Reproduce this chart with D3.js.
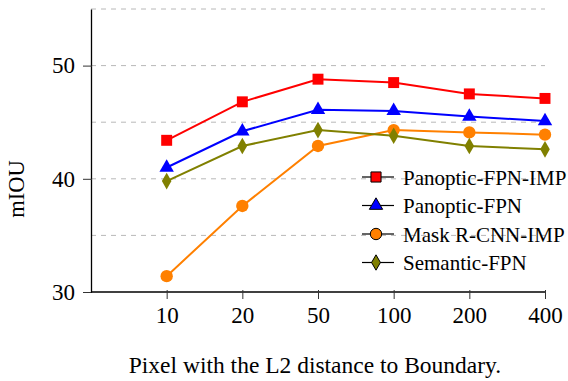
<!DOCTYPE html>
<html>
<head>
<meta charset="utf-8">
<script src="https://cdn.jsdelivr.net/npm/d3@7"></script>
<style>
  body { margin: 0; background: #fff; }
  svg { display: block; font-family: "Liberation Serif", "DejaVu Serif", serif; }
</style>
</head>
<body>
<svg width="568" height="381"></svg>
<script>
// Chart data
const distances = ["10", "20", "50", "100", "200", "400"];
const panopticImp = [43.4, 46.8, 48.8, 48.5, 47.5, 47.1];
const panoptic = [41.0, 44.2, 46.1, 46.0, 45.5, 45.1];
const maskImp = [31.4, 37.6, 42.9, 44.3, 44.1, 43.9];
const semantic = [39.8, 42.9, 44.3, 43.8, 42.9, 42.6];
const yTicks = [30, 40, 50];
const gridValues = [35, 40, 45, 50, 55];

const series = [
  { name: "Panoptic-FPN-IMP", values: panopticImp, color: "#ff0000", mark: d3.symbolSquare },
  { name: "Panoptic-FPN", values: panoptic, color: "#0000ff", mark: d3.symbolTriangle },
  { name: "Mask R-CNN-IMP", values: maskImp, color: "#ff8000", mark: d3.symbolCircle },
  { name: "Semantic-FPN", values: semantic, color: "#808000", mark: d3.symbolDiamond }
];

const svg = d3.select("svg");

// Plot area
const plotLeft = 91, plotRight = 545, plotTop = 9, plotBottom = 292;
const step = (plotRight - plotLeft) / distances.length;

const xScale = d3.scalePoint().domain(distances).range([plotLeft + step, plotRight]);
const yScale = d3.scaleLinear().domain([30, 55]).range([plotBottom, plotTop]);

// Dashed grid lines
svg.append("g")
  .selectAll("line")
  .data(gridValues)
  .enter()
  .append("line")
  .attr("x1", plotLeft)
  .attr("x2", plotRight)
  .attr("y1", d => yScale(d))
  .attr("y2", d => yScale(d))
  .attr("stroke", "#b8b8b8")
  .attr("stroke-width", 1)
  .attr("stroke-dasharray", "5,5");

// Y axis
const yAxis = svg.append("g")
  .attr("transform", `translate(${plotLeft},0)`)
  .attr("font-family", null)
  .call(d3.axisLeft(yScale).tickValues(yTicks).tickSize(8).tickSizeOuter(0).tickPadding(8));
yAxis.attr("font-family", "'Liberation Serif', serif").attr("font-size", 23);
yAxis.select(".domain").attr("stroke", "#000").attr("stroke-width", 1.3);
yAxis.selectAll(".tick line").attr("x2", -8).attr("x1", 1).attr("stroke", "#333");
yAxis.selectAll(".tick text").attr("fill", "#000");

// X axis
const xAxis = svg.append("g")
  .attr("transform", `translate(0,${plotBottom})`)
  .call(d3.axisBottom(xScale).tickSize(7).tickSizeOuter(0).tickPadding(8));
xAxis.attr("font-family", "'Liberation Serif', serif").attr("font-size", 23);
xAxis.select(".domain").attr("d", `M${plotLeft},0H${plotRight}`).attr("stroke", "#000").attr("stroke-width", 1.3);
xAxis.selectAll(".tick line").attr("y1", -2).attr("y2", 7).attr("stroke", "#333");
xAxis.selectAll(".tick text").attr("fill", "#000");

// Axis titles
svg.append("text")
  .text("mIOU")
  .attr("transform", "translate(24,189) rotate(-90)")
  .attr("text-anchor", "middle")
  .style("font-size", "22.5px");

svg.append("text")
  .text("Pixel with the L2 distance to Boundary.")
  .attr("x", 315)
  .attr("y", 373)
  .attr("text-anchor", "middle")
  .style("font-size", "23.5px");

// Lines and markers
const line = d3.line()
  .x((d, i) => xScale(distances[i]))
  .y(d => yScale(d));

function markSize(mark, scale) {
  if (mark === d3.symbolDiamond) return 80 * scale;
  if (mark === d3.symbolTriangle) return 90 * scale;
  return 120 * scale;
}

series.forEach(s => {
  svg.append("path")
    .datum(s.values)
    .attr("d", line)
    .attr("fill", "none")
    .attr("stroke", s.color)
    .attr("stroke-width", 2);

  svg.append("g")
    .selectAll("path")
    .data(s.values)
    .enter()
    .append("path")
    .attr("d", d3.symbol().type(s.mark).size(markSize(s.mark, 1)))
    .attr("transform", (d, i) => `translate(${xScale(distances[i])},${yScale(d)})`)
    .attr("fill", s.color);
});

// Legend
const legend = svg.append("g").attr("transform", "translate(362,177)");
const rowGap = 28.5;

series.forEach((s, i) => {
  const row = legend.append("g").attr("transform", `translate(0,${i * rowGap})`);
  row.append("line")
    .attr("x1", 0).attr("x2", 32)
    .attr("stroke", "#000")
    .attr("stroke-width", 1.2);
  row.append("path")
    .attr("d", d3.symbol().type(s.mark).size(markSize(s.mark, 0.85)))
    .attr("transform", "translate(14,0)")
    .attr("fill", s.color)
    .attr("stroke", "#000")
    .attr("stroke-width", 1);
  row.append("text")
    .text(s.name)
    .attr("x", 41)
    .attr("y", 7.5)
    .style("font-size", "21px");
});
</script>
</body>
</html>
